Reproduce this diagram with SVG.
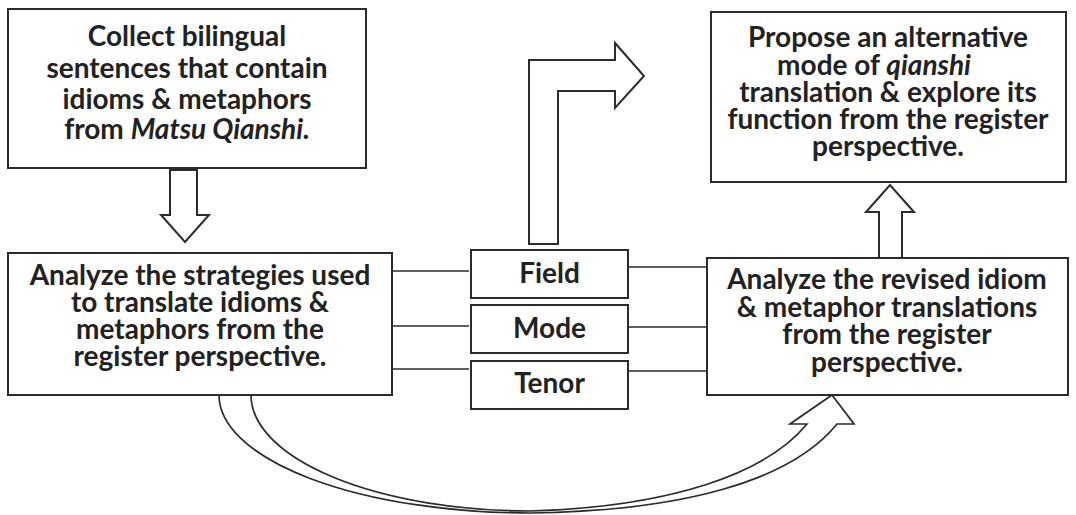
<svg xmlns="http://www.w3.org/2000/svg" width="1076" height="515" viewBox="0 0 1076 515">
  <style>
    .box { fill: #ffffff; stroke: #2b2b2b; stroke-width: 2; }
    .arrow { fill: #ffffff; stroke: #2b2b2b; stroke-width: 2; stroke-linejoin: miter; }
    .curve { fill: #ffffff; stroke: #2b2b2b; stroke-width: 1.7; stroke-linejoin: miter; }
    .link { stroke: #2b2b2b; stroke-width: 1.6; fill: none; }
    .label { font-family: Lato, "Open Sans", "Liberation Sans", sans-serif; font-weight: bold; font-size: 28px; fill: #222222; text-anchor: middle; }
    .it { font-style: italic; }
  </style>
  <rect width="1076" height="515" fill="#ffffff"/>

  <!-- connectors -->
  <g id="connectors">
    <!-- down arrow: collect -> analyze strategies -->
    <path class="arrow" d="M170,170 L197,170 L197,215 L209,215 L185,242 L161,215 L170,215 Z"/>
    <!-- bent arrow from the register boxes towards the proposal -->
    <path class="arrow" d="M529,244 L529,60 L615,60 L615,43 L644,76 L615,108 L615,91 L558,91 L558,244 Z"/>
    <!-- up arrow: revised analysis -> proposal -->
    <path class="arrow" d="M879,258 L879,212 L866,212 L890,185 L914,212 L902,212 L902,258 Z"/>
    <!-- curved arrow under the register boxes -->
    <path class="curve" d="M219,395 A311,118 0 0 0 530,513 C680,511 790,482 837,424 L854,424 L832,395 L790,424 L807,424 C766,474 670,507 530,511 A279,116 0 0 1 251,395"/>
    <!-- register lines -->
    <line class="link" x1="392" y1="271" x2="469" y2="271"/>
    <line class="link" x1="392" y1="326" x2="469" y2="326"/>
    <line class="link" x1="392" y1="369" x2="469" y2="369"/>
    <line class="link" x1="628" y1="267" x2="707" y2="267"/>
    <line class="link" x1="628" y1="327" x2="707" y2="327"/>
    <line class="link" x1="628" y1="371" x2="707" y2="371"/>
  </g>

  <g id="collect">
    <rect class="box" x="8" y="9" width="358" height="159"/>
    <text class="label" x="187" y="46">Collect bilingual</text>
    <text class="label" x="187" y="78">sentences that contain</text>
    <text class="label" x="187" y="109">idioms &amp; metaphors</text>
    <text class="label" x="187" y="139">from <tspan class="it">Matsu Qianshi.</tspan></text>
  </g>

  <g id="analyze-strategies">
    <rect class="box" x="8" y="253" width="384" height="142"/>
    <text class="label" x="200" y="285">Analyze the strategies used</text>
    <text class="label" x="200" y="312">to translate idioms &amp;</text>
    <text class="label" x="200" y="339">metaphors from the</text>
    <text class="label" x="200" y="366">register perspective.</text>
  </g>

  <g id="field">
    <rect class="box" x="471" y="250" width="157" height="48"/>
    <text class="label" x="549.5" y="283">Field</text>
  </g>
  <g id="mode">
    <rect class="box" x="471" y="305" width="157" height="48"/>
    <text class="label" x="549.5" y="338">Mode</text>
  </g>
  <g id="tenor">
    <rect class="box" x="471" y="361" width="157" height="48"/>
    <text class="label" x="549.5" y="393">Tenor</text>
  </g>

  <g id="analyze-revised">
    <rect class="box" x="707" y="258" width="361" height="137"/>
    <text class="label" x="887" y="289">Analyze the revised idiom</text>
    <text class="label" x="887" y="317">&amp; metaphor translations</text>
    <text class="label" x="887" y="344">from the register</text>
    <text class="label" x="887" y="372">perspective.</text>
  </g>

  <g id="propose">
    <rect class="box" x="711" y="12" width="355" height="170"/>
    <text class="label" x="888" y="47">Propose an alternative</text>
    <text class="label" x="874" y="75">mode of <tspan class="it">qianshi</tspan></text>
    <text class="label" x="888" y="102">translation &amp; explore its</text>
    <text class="label" x="888" y="129">function from the register</text>
    <text class="label" x="888" y="156">perspective.</text>
  </g>
</svg>
